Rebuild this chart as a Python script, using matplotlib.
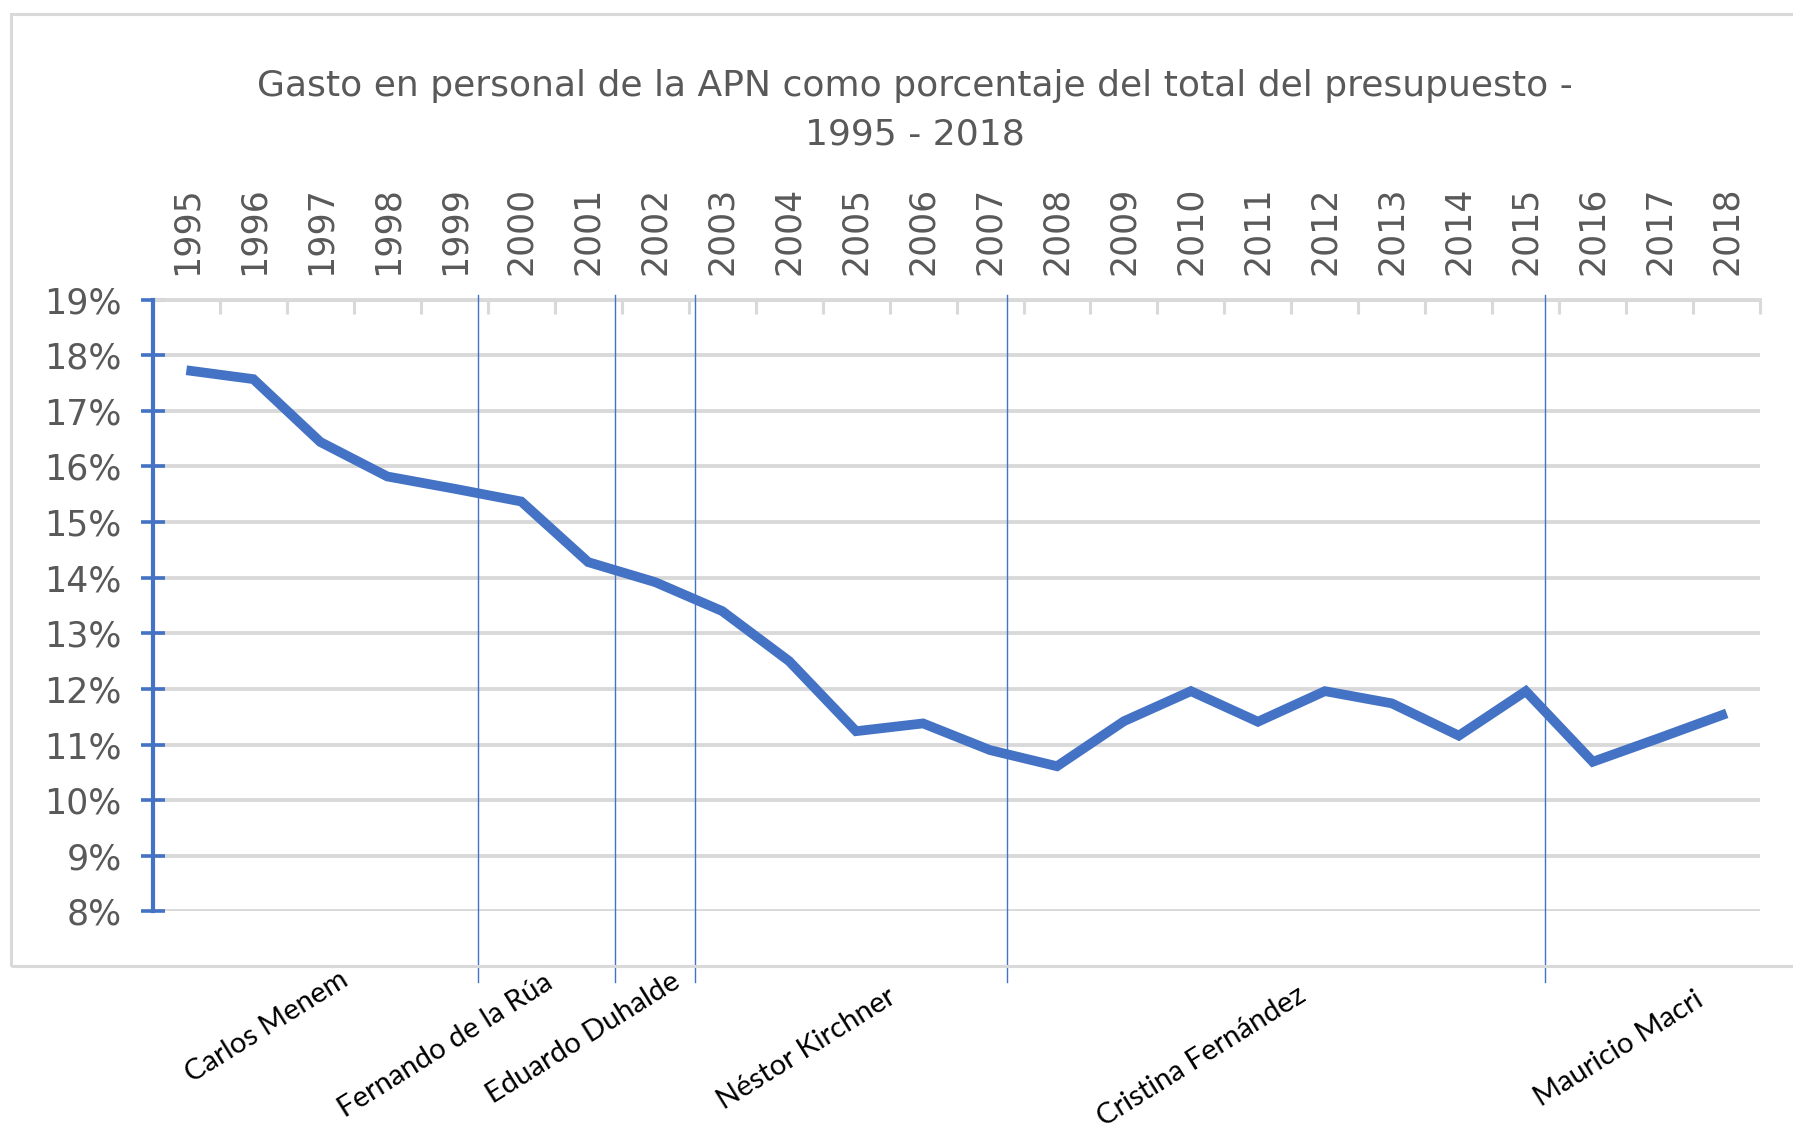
import matplotlib
matplotlib.use("Agg")
import matplotlib.pyplot as plt
from matplotlib.patches import Rectangle
from matplotlib.lines import Line2D
from matplotlib.ticker import FixedLocator, FuncFormatter

# ---------------- data ----------------
years = list(range(1995, 2019))
gasto_pct = [17.73, 17.57, 16.44, 15.82, 15.6, 15.37, 14.28, 13.92, 13.4, 12.5,
             11.24, 11.38, 10.9, 10.61, 11.42, 11.96, 11.41, 11.96, 11.74, 11.16,
             11.96, 10.69, 11.12, 11.56]
y_ticks = list(range(8, 20))
title_text = "Gasto en personal de la APN como porcentaje del total del presupuesto -\n1995 - 2018"
presidents = ["Carlos Menem", "Fernando de la Rúa", "Eduardo Duhalde",
              "Néstor Kirchner", "Cristina Fernández", "Mauricio Macri"]
transitions = [1999.35, 2001.4, 2002.6, 2007.26, 2015.28]

# ---------------- layout / style ----------------
W, H = 1793, 1134
BLUE = "#4472c4"
GRID = "#d9d9d9"
TXT = "#595959"
label_px = [(267, 1027), (446, 1046), (583, 1038), (807, 1049), (1202, 1057), (1619, 1049)]

fig = plt.figure(figsize=(W / 100, H / 100), dpi=100)
ax_l, ax_r, ax_t, ax_b = 152.9, 1760.2, 299.6, 911.4
ax = fig.add_axes([ax_l / W, 1 - ax_b / H, (ax_r - ax_l) / W, (ax_b - ax_t) / H])

ax.set_xlim(1994.5, 2018.5)
ax.set_ylim(8, 19)

# gridlines
for v in y_ticks:
    ax.axhline(v, color=GRID, lw=2.8, zorder=1)

ax.plot(years, gasto_pct, color=BLUE, lw=7.0, solid_capstyle="butt",
        solid_joinstyle="miter", zorder=4)

# spines
for s in ["right", "bottom"]:
    ax.spines[s].set_visible(False)
ax.spines["top"].set_color(GRID)
ax.spines["top"].set_linewidth(2.8)
ax.spines["left"].set_color(BLUE)
ax.spines["left"].set_linewidth(3.0)
ax.spines["left"].set_zorder(5)

# y axis
ax.yaxis.set_major_locator(FixedLocator(y_ticks))
ax.yaxis.set_major_formatter(FuncFormatter(lambda v, p: f"{int(round(v))}%"))
ax.tick_params(axis="y", direction="inout", length=17, width=2.6, color=BLUE,
               labelsize=25, labelcolor=TXT, pad=14)

# x axis on top
ax.xaxis.tick_top()
ax.set_xticks(years)
ax.set_xticklabels([str(y) for y in years], rotation=90)
ax.set_xticks([y + 0.5 for y in years[:-1]] + [1994.5, 2018.5], minor=True)
ax.tick_params(axis="x", which="major", length=0, labelsize=25, labelcolor=TXT, pad=18)
ax.tick_params(axis="x", which="minor", direction="in", length=10, width=2.2, color=GRID,
               top=True, bottom=False)

# transition lines (extend below the axes)
for t in transitions:
    ln = Line2D([t, t], [1.008, -0.1146], transform=ax.get_xaxis_transform(),
                color=BLUE, lw=1.0, clip_on=False, zorder=3)
    ax.add_artist(ln)

# chart border
fig.add_artist(Rectangle((11 / W, 1 - 966 / H), (W + 20 - 11) / W, (966 - 14) / H,
                         transform=fig.transFigure, fill=False, ec=GRID, lw=2.2))

# title
fig.text(915 / W, 1 - 110 / H, title_text, ha="center", va="center", fontsize=26,
         color=TXT, linespacing=1.55, multialignment="center")

# president labels
for name, (px, py) in zip(presidents, label_px):
    fig.text(px / W, 1 - py / H, name, ha="center", va="center", rotation=32,
             rotation_mode="anchor", fontsize=21, family=["Lato", "DejaVu Sans"],
             color="black")

fig.savefig("out.png", dpi=100)
